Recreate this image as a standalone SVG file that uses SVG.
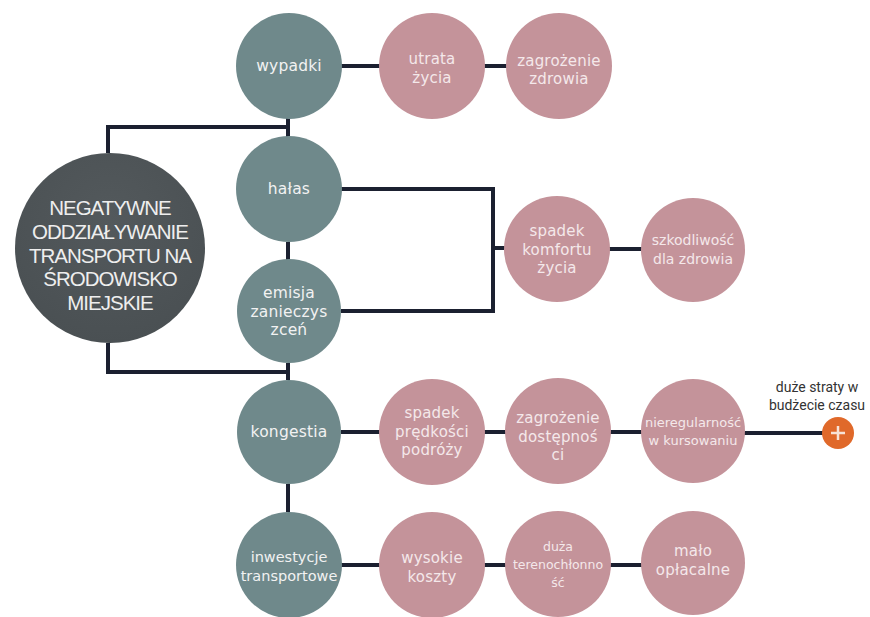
<svg xmlns="http://www.w3.org/2000/svg" width="870" height="617" viewBox="0 0 870 617">
<defs>
<radialGradient id="dk" cx="50%" cy="35%" r="65%">
<stop offset="0" stop-color="#53595c"/>
<stop offset="1" stop-color="#4a5053"/>
</radialGradient>
<style>
.t{fill:#6f898b}
.p{fill:#c4939a}
.ln{fill:none;stroke:#1b2030;stroke-width:4;stroke-linejoin:miter}
.tx{font-family:"DejaVu Sans","Noto Sans",sans-serif;font-size:15.5px;letter-spacing:0.2px;fill:#f2f2f2;text-anchor:middle}
.px{font-family:"DejaVu Sans","Noto Sans",sans-serif;font-size:15px;letter-spacing:0.2px;fill:#f4e8ea;text-anchor:middle}
.bx{font-family:"Liberation Sans",Arial,sans-serif;font-size:20.5px;letter-spacing:-1px;fill:#eeeeee;text-anchor:middle}
.lb{font-family:Roboto,"Liberation Sans",sans-serif;font-size:14px;fill:#333333;text-anchor:middle}
</style>
</defs>
<rect width="870" height="617" fill="#ffffff"/>
<g id="connectors">
<polyline class="ln" points="108,153 108,127 288,127"/>
<line class="ln" x1="288" y1="118" x2="288" y2="137"/>
<line class="ln" x1="288" y1="242" x2="288" y2="260"/>
<polyline class="ln" points="108,343 108,372 288,372"/>
<line class="ln" x1="288" y1="363" x2="288" y2="380"/>
<line class="ln" x1="288" y1="484" x2="288" y2="512"/>
<line class="ln" x1="341" y1="66" x2="380" y2="66"/>
<line class="ln" x1="484" y1="66" x2="507" y2="66"/>
<polyline class="ln" points="341,189 493,189 493,311 341,311"/>
<line class="ln" x1="493" y1="248" x2="505" y2="248"/>
<line class="ln" x1="609" y1="249" x2="642" y2="249"/>
<line class="ln" x1="341" y1="432" x2="380" y2="432"/>
<line class="ln" x1="484" y1="432" x2="507" y2="432"/>
<line class="ln" x1="609" y1="432" x2="642" y2="432"/>
<line class="ln" x1="744" y1="433" x2="823" y2="433"/>
<line class="ln" x1="341" y1="565" x2="380" y2="565"/>
<line class="ln" x1="484" y1="565" x2="507" y2="565"/>
<line class="ln" x1="609" y1="565" x2="642" y2="565"/>
</g>
<g id="root">
<circle cx="110" cy="248" r="95" fill="url(#dk)"/>
<text class="bx"><tspan x="110" y="215">NEGATYWNE</tspan><tspan x="110" y="239">ODDZIAŁYWANIE</tspan><tspan x="110" y="262.5">TRANSPORTU NA</tspan><tspan x="110" y="286">ŚRODOWISKO</tspan><tspan x="110" y="309.5">MIEJSKIE</tspan></text>
</g>
<g id="wypadki"><circle class="t" cx="289" cy="66" r="53"/><text class="tx" x="289" y="71">wypadki</text></g>
<g id="halas"><circle class="t" cx="289" cy="189" r="53"/><text class="tx" x="289" y="194">hałas</text></g>
<g id="emisja"><circle class="t" cx="289" cy="311" r="52"/><text class="tx"><tspan x="289" y="298">emisja</tspan><tspan x="289" y="316.5">zanieczys</tspan><tspan x="289" y="335">zceń</tspan></text></g>
<g id="kongestia"><circle class="t" cx="289" cy="432" r="52"/><text class="tx" x="289" y="437">kongestia</text></g>
<g id="inwestycje"><circle class="t" cx="289" cy="565" r="53"/><text class="tx" style="font-size:14.5px;letter-spacing:0"><tspan x="289" y="562">inwestycje</tspan><tspan x="289" y="580.5">transportowe</tspan></text></g>
<g id="utrata"><circle class="p" cx="432" cy="66" r="53"/><text class="px"><tspan x="432" y="64">utrata</tspan><tspan x="432" y="82.5">życia</tspan></text></g>
<g id="zagrozenie-zdrowia"><circle class="p" cx="559" cy="66" r="53"/><text class="px"><tspan x="559" y="65.5">zagrożenie</tspan><tspan x="559" y="84">zdrowia</tspan></text></g>
<g id="spadek-komfortu"><circle class="p" cx="557" cy="249" r="53"/><text class="px"><tspan x="557" y="236">spadek</tspan><tspan x="557" y="254.5">komfortu</tspan><tspan x="557" y="273">życia</tspan></text></g>
<g id="szkodliwosc"><circle class="p" cx="693" cy="250" r="52"/><text class="px" style="font-size:14px;letter-spacing:0"><tspan x="693" y="245">szkodliwość</tspan><tspan x="693" y="263.5">dla zdrowia</tspan></text></g>
<g id="spadek-predkosci"><circle class="p" cx="432" cy="432" r="53"/><text class="px"><tspan x="432" y="418">spadek</tspan><tspan x="432" y="436.5">prędkości</tspan><tspan x="432" y="455">podróży</tspan></text></g>
<g id="zagrozenie-dostepnosci"><circle class="p" cx="558" cy="431" r="53"/><text class="px"><tspan x="558" y="423">zagrożenie</tspan><tspan x="558" y="441.5">dostępnoś</tspan><tspan x="558" y="460">ci</tspan></text></g>
<g id="nieregularnosc"><circle class="p" cx="693" cy="431" r="52"/><text class="px" style="font-size:13px;letter-spacing:0"><tspan x="693" y="427">nieregularność</tspan><tspan x="693" y="445">w kursowaniu</tspan></text></g>
<g id="wysokie-koszty"><circle class="p" cx="432" cy="565" r="53"/><text class="px"><tspan x="432" y="563">wysokie</tspan><tspan x="432" y="581.5">koszty</tspan></text></g>
<g id="terenochlonnosc"><circle class="p" cx="558" cy="564" r="53"/><text class="px" style="font-size:12.5px;letter-spacing:0"><tspan x="558" y="551">duża</tspan><tspan x="558" y="569">terenochłonno</tspan><tspan x="558" y="587">ść</tspan></text></g>
<g id="malo-oplacalne"><circle class="p" cx="693" cy="563" r="52"/><text class="px"><tspan x="693" y="556">mało</tspan><tspan x="693" y="574.5">opłacalne</tspan></text></g>
<g id="plus">
<circle cx="838" cy="433" r="16" fill="#e0692a"/>
<path d="M838,426 V440 M831,433 H845" stroke="#f7e3d6" stroke-width="2.5" fill="none"/>
<text class="lb"><tspan x="817" y="392">duże straty w</tspan><tspan x="817" y="410">budżecie czasu</tspan></text>
</g>
</svg>
